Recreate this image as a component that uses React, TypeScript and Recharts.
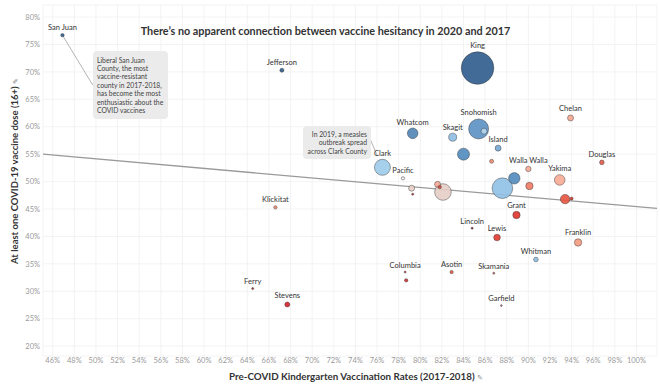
import React from 'react';
import { ScatterChart, Scatter, XAxis, YAxis, ZAxis, CartesianGrid, ReferenceLine } from 'recharts';

// One entry per Washington county, same order in every array
const counties = [
  'King', 'Pierce', 'Snohomish', 'Spokane', 'Clark', 'Thurston', 'Kitsap', 'Whatcom', 'Yakima', 'Cowlitz',
  'Skagit', 'Benton', 'Grant', 'Franklin', 'Lewis', 'Clallam', 'Chelan', 'Island', 'Mason', 'Grays Harbor',
  'Walla Walla', 'Stevens', 'Whitman', 'Douglas', 'Jefferson', 'Kittitas', 'San Juan', 'Pacific', 'Klickitat',
  'Okanogan', 'Asotin', 'Pend Oreille', 'Adams', 'Lincoln', 'Wahkiakum', 'Columbia', 'Skamania', 'Ferry', 'Garfield',
];
// Pre-COVID kindergarten vaccination rate, 2017-2018 (%)
const kinderRates = [
  85.3, 87.6, 85.4, 82.1, 76.5, 84.0, 88.7, 79.3, 92.9, 93.4,
  83.0, 90.1, 88.9, 94.6, 87.1, 85.9, 93.9, 87.2, 79.2, 81.6,
  90.0, 67.7, 90.7, 96.8, 67.2, 86.6, 46.9, 78.4, 66.6,
  78.7, 82.9, 81.8, 94.0, 84.8, 79.3, 78.6, 86.8, 64.5, 87.5,
];
// At least one COVID-19 vaccine dose, 16+ (%)
const doseRates = [
  70.7, 48.8, 59.6, 48.1, 52.6, 55.0, 50.6, 58.8, 50.3, 46.8,
  58.1, 49.2, 43.9, 38.9, 39.8, 59.2, 61.6, 56.1, 48.8, 49.5,
  52.3, 27.6, 35.8, 53.5, 70.3, 53.7, 76.7, 50.6, 45.3,
  32.0, 33.5, 49.0, 46.9, 41.5, 47.7, 33.5, 33.3, 30.5, 27.4,
];
// Population, thousands (bubble size)
const populations = [
  2250, 900, 847, 583, 542, 305, 275, 238, 238, 187,
  136, 116, 116, 116, 92, 76, 76, 76, 76, 76,
  62, 53, 45, 45, 34, 34, 24, 24, 24,
  24, 24, 24, 20, 9, 9, 9, 9, 9, 6,
];
const labeledCounties = [
  'King', 'Snohomish', 'Clark', 'Whatcom', 'Yakima', 'Skagit', 'Grant', 'Franklin', 'Lewis', 'Chelan', 'Island',
  'Walla Walla', 'Stevens', 'Whitman', 'Douglas', 'Jefferson', 'San Juan', 'Pacific', 'Klickitat', 'Asotin',
  'Lincoln', 'Columbia', 'Skamania', 'Ferry', 'Garfield',
];
const xTicks = [46, 48, 50, 52, 54, 56, 58, 60, 62, 64, 66, 68, 70, 72, 74, 76, 78, 80, 82, 84, 86, 88, 90, 92, 94, 96, 98, 100];
const yTicks = [20, 25, 30, 35, 40, 45, 50, 55, 60, 65, 70, 75, 80];
// trend line end points (x %, y %)
const trendStart = { x: 45.1, y: 55.0 };
const trendEnd = { x: 101.9, y: 45.1 };

// diverging blue/red colour per county
const countyColors: Record<string, string> = {
  'King': '#2d5b8c', 'Pierce': '#8fc0e4', 'Snohomish': '#5a90c3', 'Spokane': '#e6cdc6', 'Clark': '#9ccbea',
  'Thurston': '#5089bc', 'Kitsap': '#5089bc', 'Whatcom': '#4f84b4', 'Yakima': '#f7ab93', 'Cowlitz': '#e8533f',
  'Skagit': '#8dbde2', 'Benton': '#ef7b64', 'Grant': '#e0322b', 'Franklin': '#f49a80', 'Lewis': '#e3382e',
  'Clallam': '#b8d8ef', 'Chelan': '#f5a692', 'Island': '#74a7d3', 'Mason': '#e8d0c8', 'Grays Harbor': '#f4a895',
  'Walla Walla': '#f5ab98', 'Stevens': '#d81e28', 'Whitman': '#8dbfe4', 'Douglas': '#e65a47', 'Jefferson': '#2c5d8f',
  'Kittitas': '#f08a70', 'San Juan': '#2c5d8f', 'Pacific': '#f2eeea', 'Klickitat': '#f08a70', 'Okanogan': '#d02a2a',
  'Asotin': '#e5553e', 'Pend Oreille': '#d8443a', 'Adams': '#d9352b', 'Lincoln': '#8b1a1a', 'Wahkiakum': '#b01c1c',
  'Columbia': '#c0504d', 'Skamania': '#d0605a', 'Ferry': '#a02020', 'Garfield': '#b05a5a',
};

const data = counties
  .map((name, i) => ({ name, x: kinderRates[i], y: doseRates[i], pop: populations[i] }))
  .sort((a, b) => b.pop - a.pop);

const font = 'Lato, "Open Sans", sans-serif';

const CountyDot = (props: any) => {
  const { cx, cy, payload } = props;
  const r = props.width ? props.width / 2 : Math.sqrt((props.size || 0) / Math.PI);
  const color = countyColors[payload.name] || '#999';
  return (
    <g>
      <circle cx={cx} cy={cy} r={Math.max(r, 0.9)} fill={color} fillOpacity={0.9} stroke="#333" strokeOpacity={0.55} strokeWidth={0.8} />
      {labeledCounties.includes(payload.name) && (
        <text x={cx} y={cy - r - 3.5} textAnchor="middle" fontSize={7.5} fill="#333" fontFamily={font}>
          {payload.name}
        </text>
      )}
    </g>
  );
};

const noteStyle: React.CSSProperties = {
  position: 'absolute',
  background: '#ebebeb',
  borderRadius: 4,
  color: '#444',
  fontSize: 6.8,
  lineHeight: '8.4px',
  fontFamily: font,
  boxSizing: 'border-box',
  whiteSpace: 'nowrap',
};

export default function App() {
  return (
    <div style={{ position: 'absolute', left: 0, top: 0, width: 660, height: 388, background: '#fff', fontFamily: font }}>
      <ScatterChart width={660} height={388} margin={{ top: 5, right: 3, bottom: 0, left: 0 }}>
        <CartesianGrid stroke="#f0f0f0" strokeWidth={0.8} />
        <XAxis
          type="number"
          dataKey="x"
          domain={[45.1, 101.9]}
          ticks={xTicks}
          tickFormatter={(v) => `${v}%`}
          axisLine={false}
          tickLine={false}
          tickSize={0}
          tickMargin={2}
          height={32}
          interval={0}
          tick={{ fontSize: 7.5, fill: '#9a9a9a', fontFamily: font }}
        />
        <YAxis
          type="number"
          dataKey="y"
          domain={[18.2, 82.2]}
          ticks={yTicks}
          tickFormatter={(v) => `${v}%`}
          axisLine={false}
          tickLine={false}
          tickSize={0}
          tickMargin={3}
          width={43}
          interval={0}
          tick={{ fontSize: 7.5, fill: '#9a9a9a', fontFamily: font }}
        />
        <ZAxis type="number" dataKey="pop" domain={[0, 2250]} range={[0, 835]} />
        <ReferenceLine segment={[trendStart, trendEnd]} stroke="#9a9a9a" strokeWidth={1.3} ifOverflow="extendDomain" />
        <ReferenceLine segment={[{ x: 46.9, y: 76.7 }, { x: 49.7, y: 67.6 }]} stroke="#b5b5b5" strokeWidth={1} />
        <ReferenceLine segment={[{ x: 75.4, y: 57.6 }, { x: 76.0, y: 54.8 }]} stroke="#b5b5b5" strokeWidth={1} />
        <Scatter data={data} shape={<CountyDot />} isAnimationActive={false} />
      </ScatterChart>

      <div style={{ position: 'absolute', left: 0, width: 651, top: 24, textAlign: 'center', fontSize: 10.8, fontWeight: 700, color: '#333' }}>
        There’s no apparent connection between vaccine hesitancy in 2020 and 2017
      </div>

      <div style={{ ...noteStyle, left: 93, top: 51, width: 75, height: 68, padding: '4.5px 4px 0 4px' }}>
        Liberal San Juan<br />County, the most<br />vaccine-resistant<br />county in 2017-2018,<br />has become the most<br />enthusiastic about the<br />COVID vaccines
      </div>
      <div style={{ ...noteStyle, left: 303, top: 126, width: 68, height: 33, padding: '4px 4px 0 4px', textAlign: 'right' }}>
        In 2019, a measles<br />outbreak spread<br />across Clark County
      </div>

      <div style={{ position: 'absolute', left: 0, width: 712, top: 370, textAlign: 'center', fontSize: 9.8, fontWeight: 700, color: '#333' }}>
        Pre-COVID Kindergarten Vaccination Rates (2017-2018) <span style={{ fontSize: 7, color: '#888', fontWeight: 400 }}>✎</span>
      </div>
      <div
        style={{
          position: 'absolute', left: 14, top: 171, width: 240, textAlign: 'center', fontSize: 9.5, fontWeight: 700, color: '#333',
          transform: 'translate(-50%, -50%) rotate(-90deg)', whiteSpace: 'nowrap',
        }}
      >
        At least one COVID-19 vaccine dose (16+) <span style={{ fontSize: 7, color: '#888', fontWeight: 400 }}>✎</span>
      </div>
    </div>
  );
}
